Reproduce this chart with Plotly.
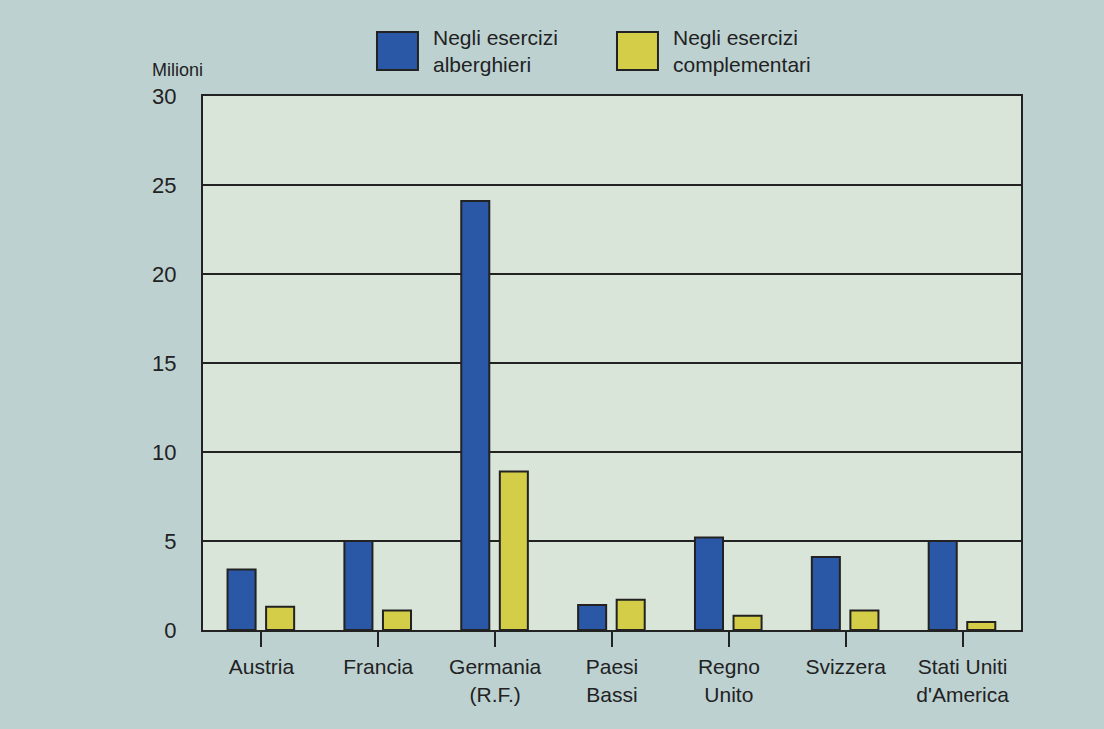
import plotly.graph_objects as go

categories = ["Austria", "Francia", "Germania<br>(R.F.)", "Paesi<br>Bassi", "Regno<br>Unito", "Svizzera", "Stati Uniti<br>d'America"]
alberghieri = [3.4, 5.0, 24.1, 1.4, 5.2, 4.1, 5.0]
complementari = [1.3, 1.1, 8.9, 1.7, 0.8, 1.1, 0.45]
series_names = ["Negli esercizi<br>alberghieri", "Negli esercizi<br>complementari"]
y_ticks = [0, 5, 10, 15, 20, 25, 30]

BLUE = "#2b58a6"
YELLOW = "#d3cd47"
DARK = "#222222"
PAPER = "#bdd1d1"
FONT = "Liberation Sans, Arial, sans-serif"

fig = go.Figure()
fig.add_trace(go.Bar(x=categories, y=alberghieri, name=series_names[0], width=0.24, offset=-0.29,
                     marker=dict(color=BLUE, line=dict(color=DARK, width=2))))
fig.add_trace(go.Bar(x=categories, y=complementari, name=series_names[1], width=0.24, offset=0.04,
                     marker=dict(color=YELLOW, line=dict(color=DARK, width=2))))

# custom legend (large swatches)
legend_items = [(0.2127, BLUE, series_names[0]), (0.5061, YELLOW, series_names[1])]
for x0, col, txt in legend_items:
    fig.add_shape(type="rect", xref="paper", yref="paper", x0=x0, x1=x0 + 0.0501, y0=1.0487, y1=1.1199,
                  fillcolor=col, line=dict(color=DARK, width=2))
    fig.add_annotation(xref="paper", yref="paper", x=x0 + 0.066, y=1.0843, text=txt, showarrow=False,
                       xanchor="left", yanchor="middle", align="left",
                       font=dict(family=FONT, size=21, color=DARK))

fig.add_annotation(xref="paper", yref="paper", x=-0.0306, y=1.0487, text="Milioni", showarrow=False,
                   xanchor="center", yanchor="middle", font=dict(family=FONT, size=18, color=DARK))

fig.update_layout(
    width=1104, height=729,
    margin=dict(l=203, r=83, t=96, b=99),
    paper_bgcolor=PAPER,
    plot_bgcolor="#dae5d9",
    barmode="overlay",
    showlegend=False,
    font=dict(family=FONT, size=21, color=DARK),
    xaxis=dict(range=[-0.5, 6.5], showline=True, linecolor=DARK, linewidth=2, mirror=True,
               ticks="outside", ticklen=15, tickwidth=2, tickcolor=DARK, showgrid=False,
               tickfont=dict(family=FONT, size=21, color=DARK), ticklabelstandoff=2),
    yaxis=dict(range=[0, 30], tickvals=y_ticks, showline=True, linecolor=DARK, linewidth=2, mirror=True,
               showgrid=True, gridcolor=DARK, gridwidth=2, zeroline=False, ticks="",
               tickfont=dict(family=FONT, size=22, color=DARK), ticklabelstandoff=20,
               layer="above traces"),
)

fig.write_html("out.html", config={"displayModeBar": False},
               post_script="document.body.style.margin='0';document.body.style.overflow='hidden';"
                           "document.body.style.background='" + PAPER + "';")
